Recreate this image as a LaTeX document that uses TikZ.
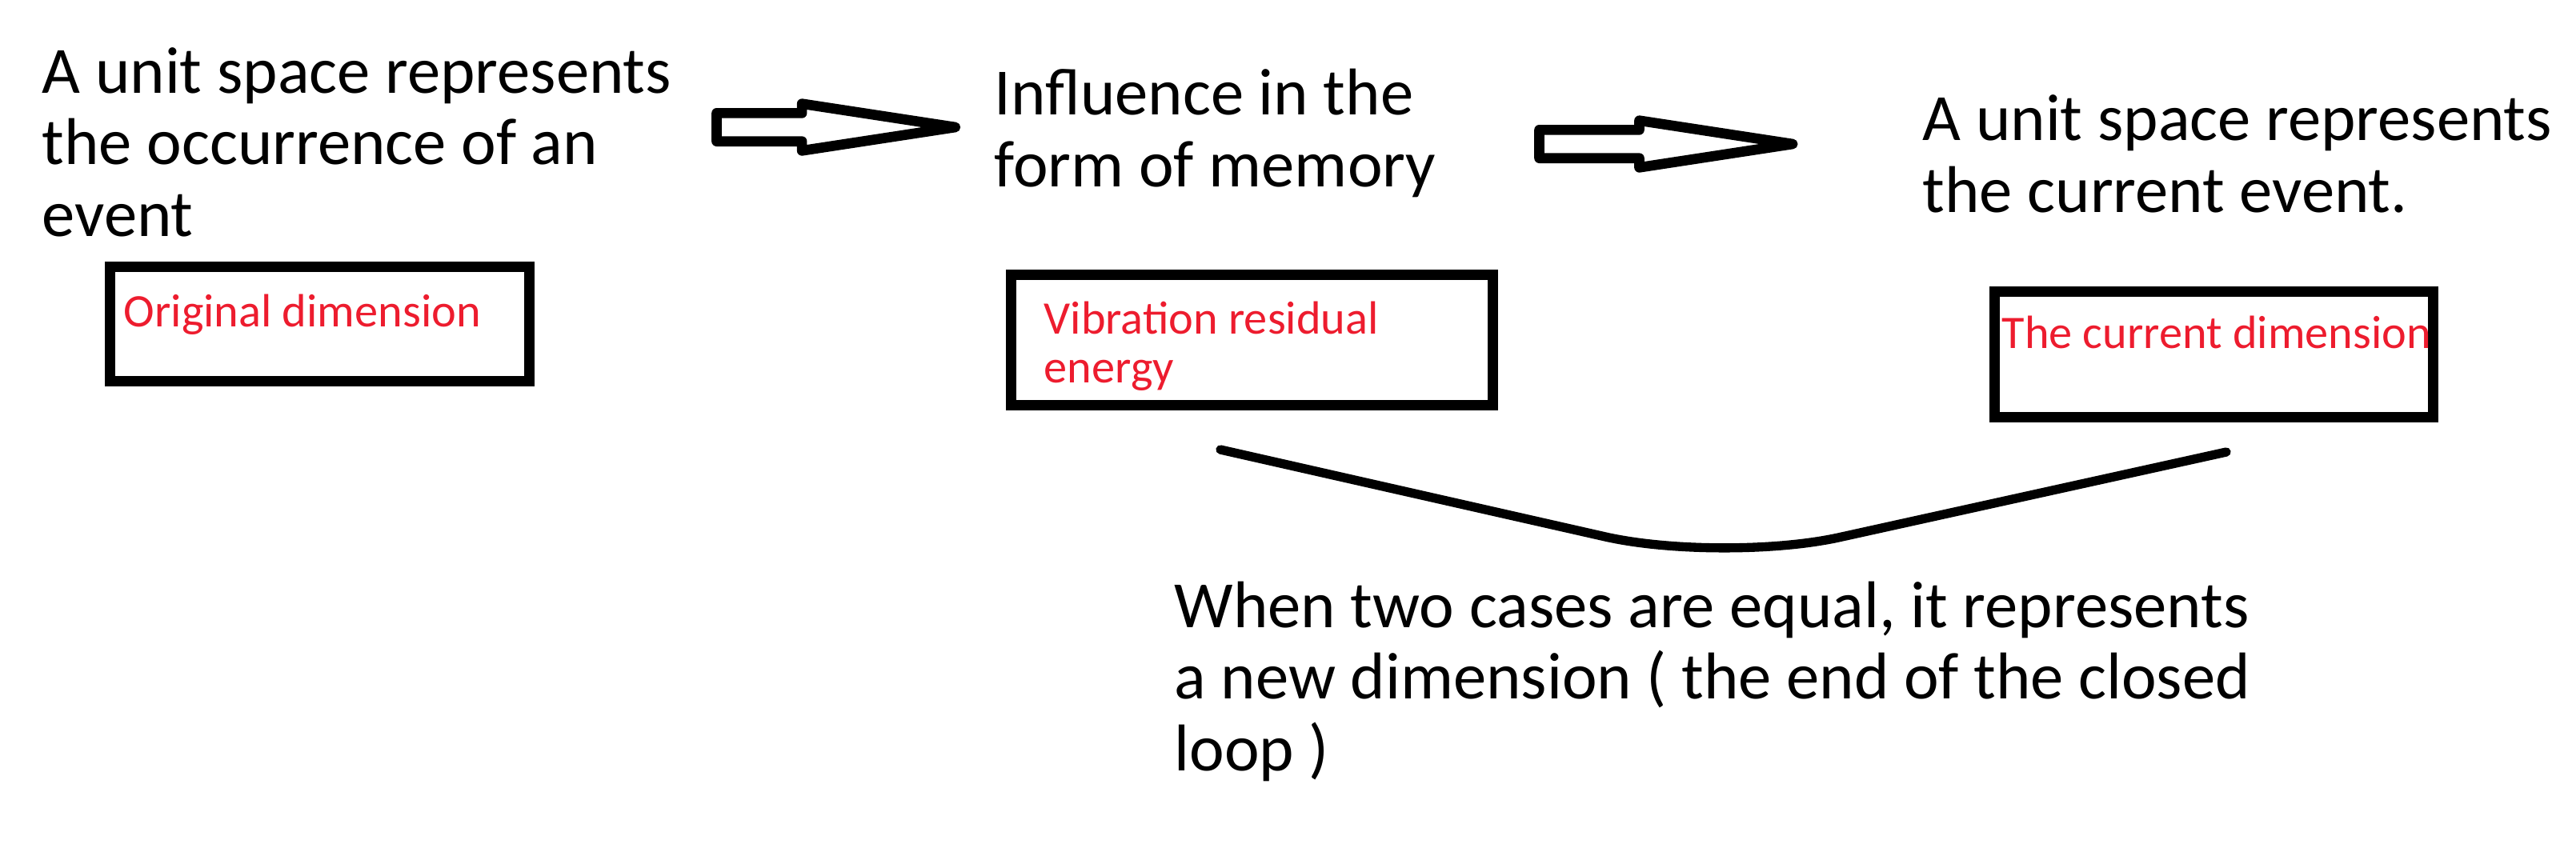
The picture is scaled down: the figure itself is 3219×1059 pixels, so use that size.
\documentclass[tikz,border=0pt]{standalone}
\usepackage{fontspec}
\setmainfont{Carlito}
\usetikzlibrary{shapes.arrows}
\definecolor{labelred}{RGB}{237,28,46}
\tikzset{
	note/.style={anchor=base west, inner sep=0pt, align=left,
		font=\fontsize{24.8}{26.85}\selectfont},
	dimbox/.style={draw, line width=3.8pt, inner sep=0pt},
	dimlabel/.style={anchor=base west, inner sep=0pt, align=left, text=labelred,
		font=\fontsize{17.5}{18.3}\selectfont},
	hollow/.style={draw, single arrow, line width=3.8pt, line join=round,
		inner xsep=0pt, inner ysep=3.4pt, outer sep=0pt, anchor=tail,
		single arrow tip angle=17.4, single arrow head extend=3.5pt},
	joinline/.style={line width=3.4pt, line cap=round, rounded corners=45pt}
}

\begin{document}
\begin{tikzpicture}[x=0.3pt, y=-0.3pt]
			\useasboundingbox (0,0) rectangle (3219,1059);
			% events (base = last line)
			\node[note] (ev1) at (52,295) {A unit space represents\\the occurrence of an\\event};
			\node[note] (ev2) at (1242,233) {Influence in the\\form of memory};
			\node[note] (ev3) at (2402,265) {A unit space represents\\the current event.};
			% dimensions
			\node[dimbox, minimum width=157.2pt, minimum height=42.9pt] (dim1) at (399.5,405) {};
			\node[dimbox, minimum width=180.6pt, minimum height=48.9pt] (dim2) at (1564.5,425) {};
			\node[dimbox, minimum width=164.4pt, minimum height=47.1pt] (dim3) at (2766.5,443) {};
			\node[dimlabel] (lab1) at (154,408) {Original dimension};
			\node[dimlabel] (lab2) at (1304,478) {Vibration residual\\energy};
			\node[dimlabel] (lab3) at (2501,435) {The current dimension};
			\node[hollow, minimum height=89.5pt] (arr1) at (895.5,159) {};
			\node[hollow, minimum height=95pt] (arr2) at (1923.5,180) {};
			% closed loop
			\coordinate (loopl) at (1525,562);
			\coordinate (loopm) at (2152,704);
			\coordinate (loopr) at (2782,565);
			\draw[joinline] (loopl) -- (loopm) -- (loopr);
			\node[note] (newdim) at (1467,963) {When two cases are equal, it represents\\a new dimension ( the end of the closed\\loop )};
\end{tikzpicture}
\end{document}
